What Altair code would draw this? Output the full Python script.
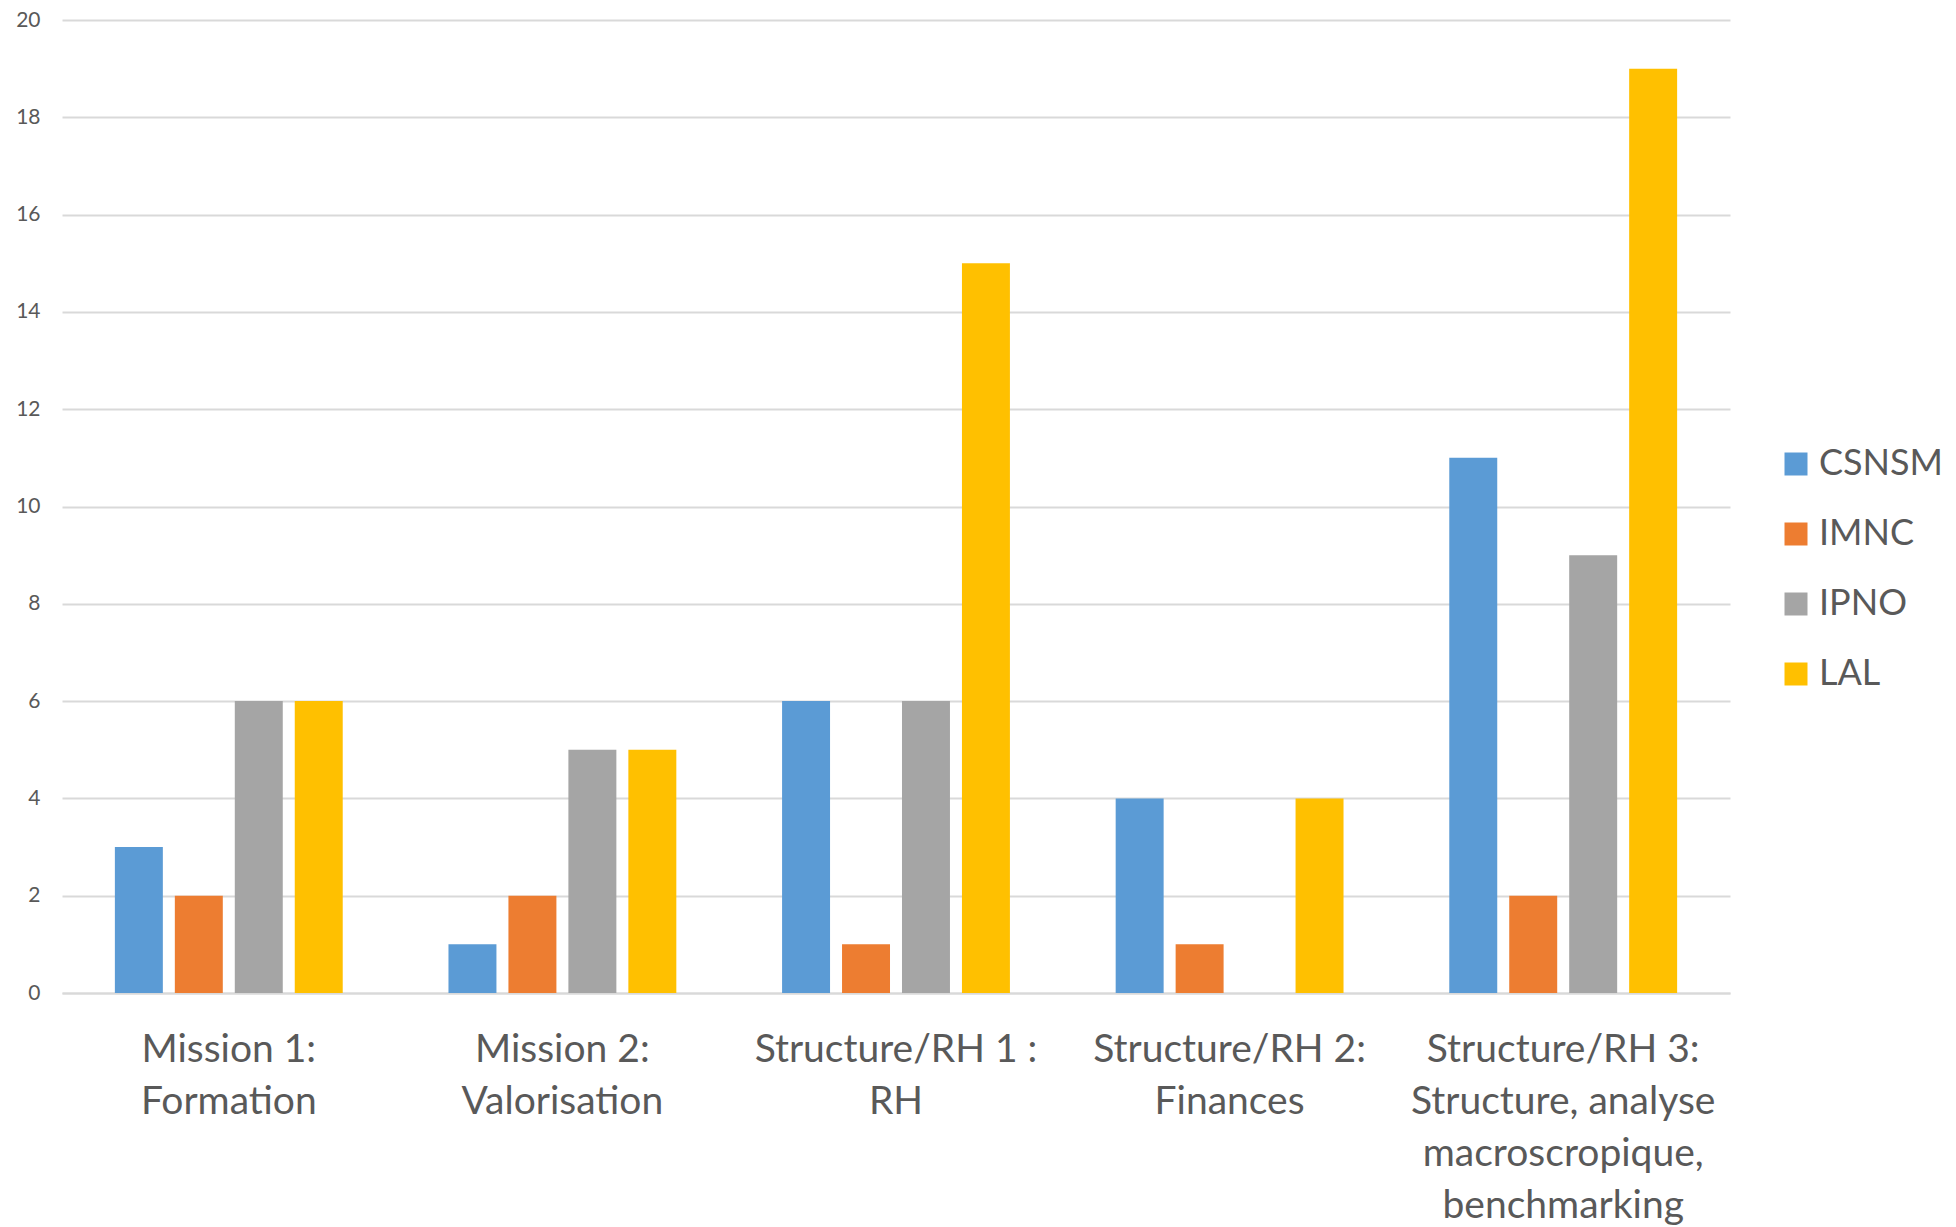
import altair as alt
import pandas as pd

# Categories (multi-line labels separated by "|") and counts per lab
categories = [
    "Mission 1:|Formation",
    "Mission 2:|Valorisation",
    "Structure/RH 1 :|RH",
    "Structure/RH 2:|Finances",
    "Structure/RH 3:|Structure, analyse|macroscropique,|benchmarking",
]
labs = ["CSNSM", "IMNC", "IPNO", "LAL"]
csnsm = [3, 1, 6, 4, 11]
imnc = [2, 2, 1, 1, 2]
ipno = [6, 5, 6, 0, 9]
lal = [6, 5, 15, 4, 19]
colors = ["#5B9BD5", "#ED7D31", "#A5A5A5", "#FFC000"]

series = {"CSNSM": csnsm, "IMNC": imnc, "IPNO": ipno, "LAL": lal}
rows = []
for lab in labs:
    for cat, v in zip(categories, series[lab]):
        rows.append({"categorie": cat, "labo": lab, "valeur": v})
df = pd.DataFrame(rows)

FONT = "Lato"
TXT = "#595959"

chart = (
    alt.Chart(df)
    .mark_bar()
    .encode(
        x=alt.X(
            "categorie:N",
            sort=categories,
            title=None,
            scale=alt.Scale(paddingInner=0.317, paddingOuter=0.1585),
            axis=alt.Axis(
                labelAngle=0,
                labelExpr="split(datum.label, '|')",
                labelFontSize=39,
                labelLineHeight=52,
                labelColor=TXT,
                labelFont=FONT,
                labelPadding=37,
                labelLimit=600,
                ticks=False,
                domainColor="#D9D9D9",
                domainWidth=2,
                grid=False,
            ),
        ),
        xOffset=alt.XOffset(
            "labo:N", sort=labs, scale=alt.Scale(paddingInner=0.2, paddingOuter=0)
        ),
        y=alt.Y(
            "valeur:Q",
            title=None,
            scale=alt.Scale(domain=[0, 20], nice=False),
            axis=alt.Axis(
                values=list(range(0, 21, 2)),
                labelFontSize=21,
                labelColor=TXT,
                labelFont=FONT,
                labelPadding=22,
                ticks=False,
                domain=False,
                gridColor="#D9D9D9",
                gridWidth=2,
            ),
        ),
        color=alt.Color(
            "labo:N",
            sort=labs,
            scale=alt.Scale(domain=labs, range=colors),
            legend=alt.Legend(
                title=None,
                orient="none",
                legendX=1716,
                legendY=426,
                symbolType="square",
                symbolSize=529,
                symbolStrokeWidth=0,
                labelFontSize=36,
                labelFont=FONT,
                labelColor=TXT,
                labelOffset=5,
                rowPadding=34,
            ),
        ),
    )
    .properties(
        width=1668,
        height=973,
        padding={"left": 62, "top": 20, "right": 226, "bottom": 234},
        autosize=alt.AutoSizeParams(type="none"),
    )
    .configure(background="white")
    .configure_view(stroke=None)
)

chart.save("out.html", embed_options={"renderer": "svg", "actions": False})
